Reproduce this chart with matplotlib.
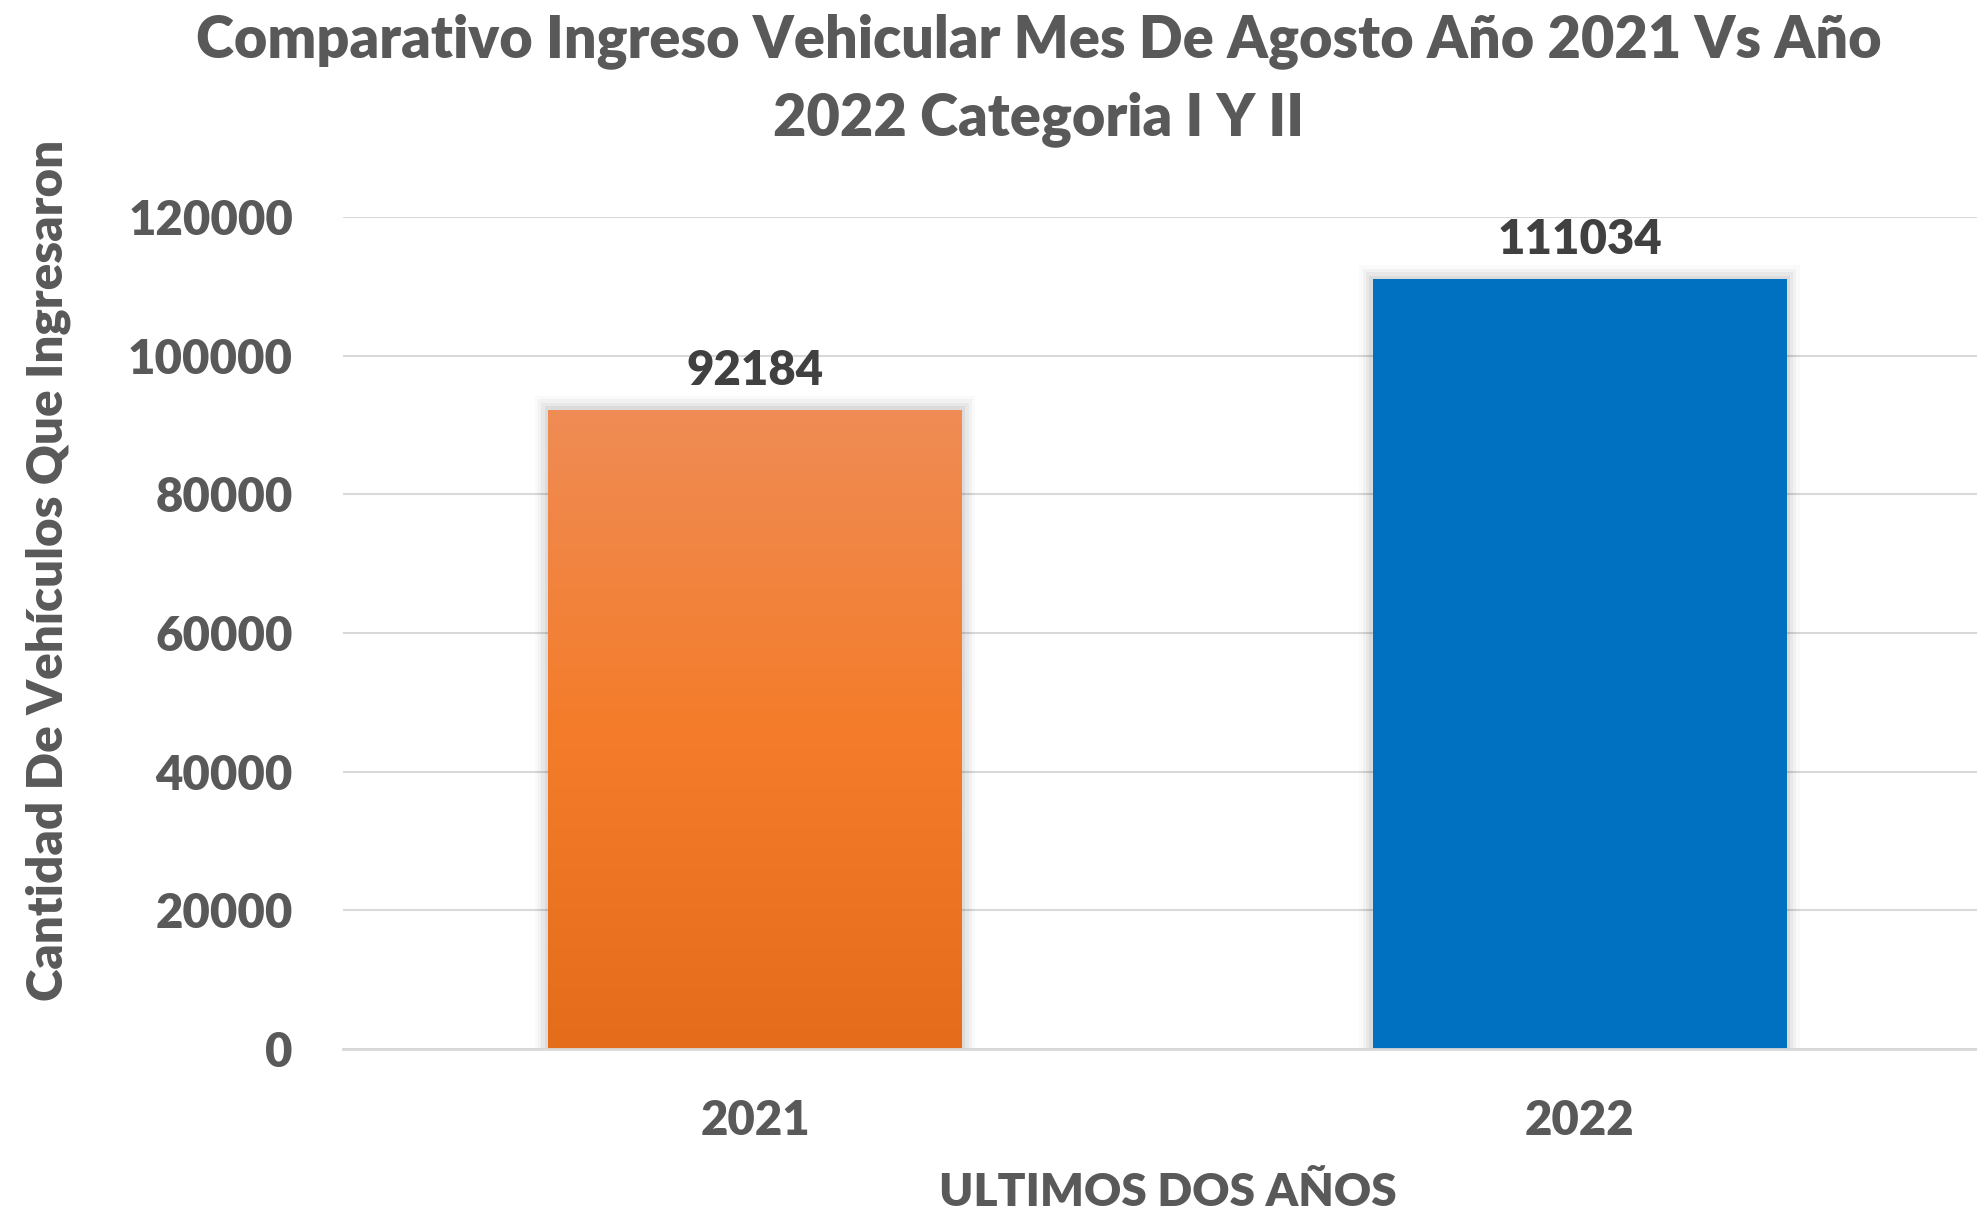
import matplotlib
matplotlib.use("Agg")
import matplotlib.pyplot as plt
import numpy as np
from matplotlib.patches import Rectangle
from matplotlib.colors import LinearSegmentedColormap

# ---- data ----
categories = ["2021", "2022"]
values = [92184, 111034]
yticks = [0, 20000, 40000, 60000, 80000, 100000, 120000]
title = "Comparativo Ingreso Vehicular Mes De Agosto Año 2021 Vs Año\n2022 Categoria I Y II"
xlabel = "ULTIMOS DOS AÑOS"
ylabel = "Cantidad De Vehículos Que Ingresaron"

# ---- style ----
FONT = "Lato"
WEIGHT = "heavy"
GREY = "#595959"
DARK = "#404040"
GRID = "#D9D9D9"
BLUE = "#0070C0"
orange_grad = LinearSegmentedColormap.from_list(
    "og", [(0.0, "#E46C1A"), (0.5, "#F47C2A"), (1.0, "#EF8C55")])

fig = plt.figure(figsize=(19.77, 12.16), dpi=100)
ax = fig.add_axes([343/1977, 1 - 1049/1216, 1 - 343/1977, (1049 - 217)/1216])

x = np.arange(len(categories))
width = 0.502

bars = ax.bar(x, values, width=width, color=["none", BLUE], zorder=3, linewidth=0)

# soft shadows
for b in bars:
    x0, w, h = b.get_x(), b.get_width(), b.get_height()
    for i, a in enumerate([0.05, 0.04, 0.03, 0.02]):
        dx = 0.004 * (i + 1)
        dy = 500 * (i + 1)
        ax.add_patch(Rectangle((x0 - dx, 0), w + 2 * dx, h + dy,
                               facecolor="black", alpha=a, linewidth=0, zorder=2))

# gradient for first bar
b0 = bars[0]
grad = np.linspace(0, 1, 256).reshape(-1, 1)
im = ax.imshow(grad, cmap=orange_grad, aspect="auto", origin="lower",
               extent=(b0.get_x(), b0.get_x() + b0.get_width(), 0, b0.get_height()),
               zorder=3)
im.set_clip_path(Rectangle((b0.get_x(), 0), b0.get_width(), b0.get_height(),
                           transform=ax.transData))
ax.set_xlim(-0.4997, 1.482)
ax.set_ylim(0, 120000)

# grid and spines
ax.set_yticks(yticks)
ax.yaxis.grid(True, color=GRID, linewidth=1.5, zorder=0)
ax.set_axisbelow(True)
for s in ["top", "right", "left"]:
    ax.spines[s].set_visible(False)
ax.spines["bottom"].set_color(GRID)
ax.spines["bottom"].set_linewidth(2)
ax.spines["bottom"].set_zorder(4)
ax.tick_params(axis="both", length=0, labelsize=34, labelcolor=GREY)
ax.tick_params(axis="y", pad=36)
ax.tick_params(axis="x", pad=36)
ax.set_xticks(x)
ax.set_xticklabels(categories)
for lab in ax.get_xticklabels() + ax.get_yticklabels():
    lab.set_fontfamily(FONT)
    lab.set_fontweight(WEIGHT)

# data labels
for xi, v in zip(x, values):
    ax.annotate(str(v), (xi, v), xytext=(0, 12), textcoords="offset points",
                ha="center", va="bottom", fontsize=34, fontweight=WEIGHT,
                color=DARK, family=FONT)

fig.text(1039/1977, 1 - 80/1216, title, ha="center", va="center",
         fontsize=41.5, fontweight=WEIGHT, color=GREY, family=FONT,
         linespacing=1.5)
fig.text(1168/1977, 1 - 1192/1216, xlabel, ha="center", va="center",
         fontsize=33, fontweight=WEIGHT, color=GREY, family=FONT)
fig.text(48/1977, 1 - 570/1216, ylabel, ha="center", va="center",
         rotation=90, fontsize=35.5, fontweight=WEIGHT, color=GREY, family=FONT)

fig.savefig("out.png", dpi=100, facecolor="white")
